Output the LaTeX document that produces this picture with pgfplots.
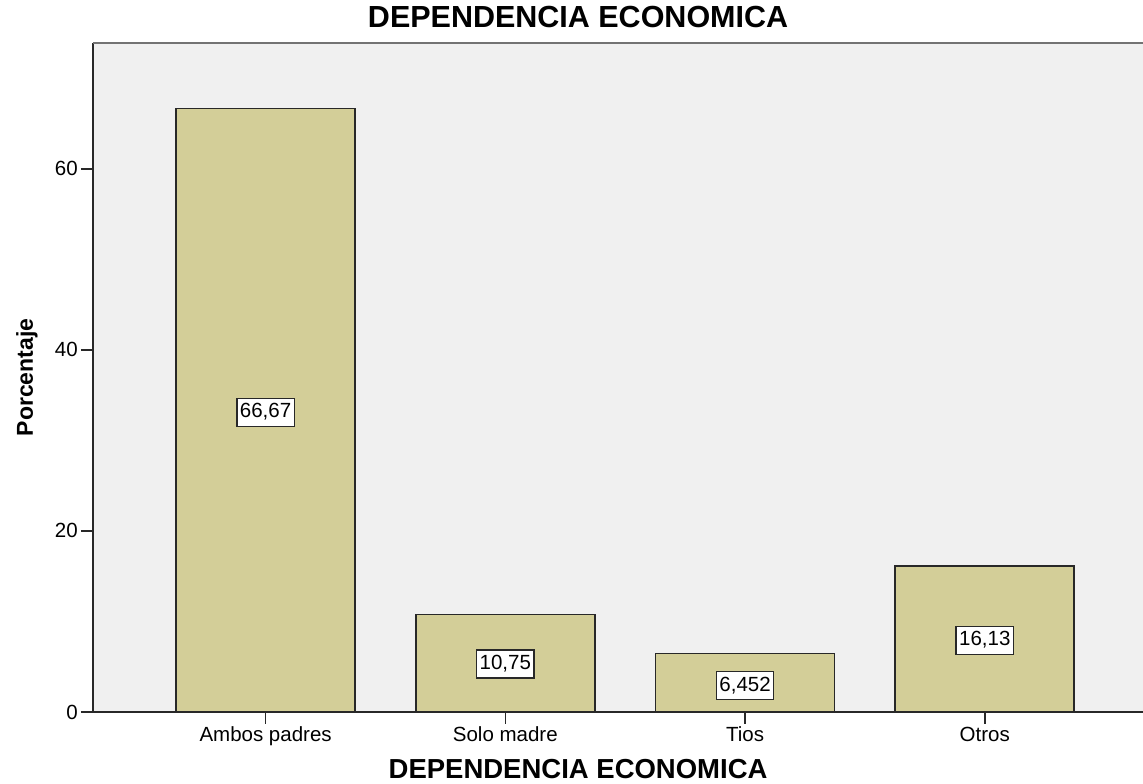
\documentclass[border=0pt]{standalone}
\usepackage{pgfplots}
\pgfplotsset{compat=1.18}
\usepackage{pgfplotstable}
\usepackage{fontspec}
\setmainfont{Liberation Sans}
\definecolor{barfill}{RGB}{211,206,152}
\definecolor{bgfill}{RGB}{240,240,240}
\definecolor{frame}{RGB}{40,40,40}
\pgfplotstableread{
x y h lab
0 66.67 33.1 66,67
1 10.75 5.3 10,75
2 6.452 2.9 6,452
3 16.13 7.9 16,13
}\data
\begin{document}
\begin{tikzpicture}
\begin{axis}[
  scale only axis, width=1050bp, height=669bp,
  xmin=-0.72, xmax=3.66, ymin=0, ymax=73.9,
  axis lines=left, axis line style={-, frame, line width=1.6bp},
  axis background/.style={fill=bgfill},
  xtick={0,1,2,3}, xticklabels={Ambos padres, Solo madre, Tios, Otros},
  ytick={0,20,40,60},
  tick align=outside, tick style={frame, line width=1.6bp},
  major tick length=12bp,
  ticklabel style={font=\fontsize{20.5bp}{23bp}\selectfont},
  /pgf/number format/assume math mode=true,
  xticklabel style={anchor=base, inner sep=0pt, yshift=-18bp},
  yticklabel style={anchor=east, inner sep=0pt, xshift=-3bp},
  title={DEPENDENCIA ECONOMICA},
  title style={at={(axis description cs:0.462,1)}, anchor=base, yshift=10bp, inner sep=0pt, font=\bfseries\fontsize{30.5bp}{33bp}\selectfont},
  xlabel={DEPENDENCIA ECONOMICA},
  xlabel style={at={(axis description cs:0.462,0)}, anchor=base, yshift=-67bp, inner sep=0pt, font=\bfseries\fontsize{27.5bp}{30bp}\selectfont},
  ylabel={Porcentaje},
  ylabel style={at={(axis description cs:0,0.5)}, anchor=base, yshift=60bp, inner sep=0pt, font=\bfseries\fontsize{23bp}{26bp}\selectfont},
  clip=false,
]
\addplot[ybar, bar width=179bp, fill=barfill, draw=frame, line width=1.6bp] table[x=x, y=y] {\data};
\addplot[draw=none, mark=none, nodes near coords, point meta=explicit symbolic,
  nodes near coords style={anchor=center, fill=white, draw=frame, line width=1.4bp,
    font=\fontsize{20.5bp}{23bp}\selectfont, text height=14.5bp, text depth=3.5bp,
    inner xsep=3bp, inner ysep=5bp}]
  table[x=x, y=h, meta=lab] {\data};
\draw[gray!90!black, line width=2.2bp] (rel axis cs:0,1) -- (rel axis cs:1,1);
\coordinate (SW) at (rel axis cs:0,0);
\coordinate (NE) at (rel axis cs:1,1);
\end{axis}
\pgfresetboundingbox
\path ([shift={(-93bp,-72bp)}]SW) rectangle ([shift={(0bp,43bp)}]NE);
\end{tikzpicture}
\end{document}
